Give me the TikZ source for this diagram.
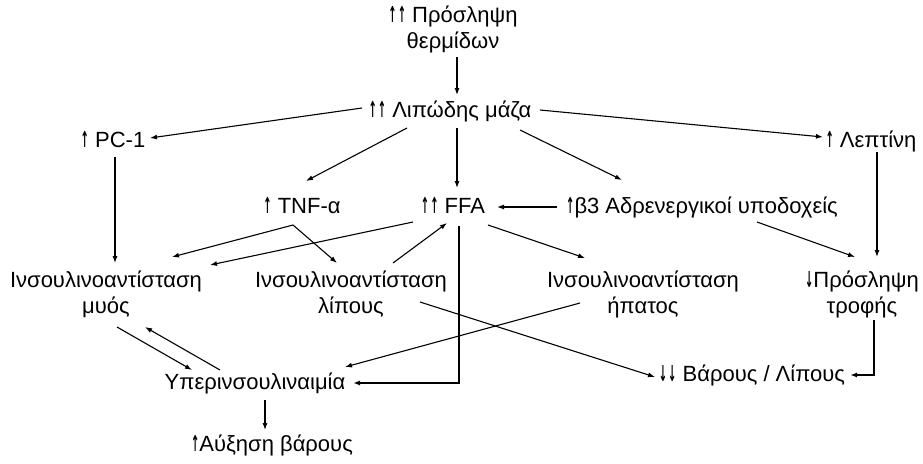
\documentclass[tikz,border=0pt]{standalone}
\usepackage{fontspec}
\usepackage{graphicx}
\setmainfont{Liberation Sans}
\newfontfamily\arrfont{DejaVu Sans Bold}
\usetikzlibrary{arrows.meta,calc}
\newcommand{\upa}{{\arrfont\scalebox{0.45}[1]{↑}}}
\newcommand{\dna}{{\arrfont\scalebox{0.45}[1]{↓}}}
\newcommand{\uu}{\upa\kern1pt\upa}
\newcommand{\dd}{\dna\kern1pt\dna}
\begin{document}
\begin{tikzpicture}[x=1pt,y=-1pt,
  lbl/.style={inner sep=0pt, anchor=base, align=center, font=\fontsize{22}{26}\selectfont},
  arr/.style={line width=1.1pt, -{Latex[length=7pt,width=5pt]}},
  heavy/.style={line width=1.8pt, -{Latex[length=7pt,width=5pt]}}]
\fill[white] (0,0) rectangle (923,463);
\useasboundingbox (0,0) rectangle (923,463);
% nodes (base = baseline of last line)
\node[lbl] (pin) at (453,48) {\uu{} Πρόσληψη\\θερμίδων};
\node[lbl] (lip) at (450,117) {\uu{} Λιπώδης μάζα};
\node[lbl] (pc1) at (113,147) {\upa{} PC-1};
\node[lbl] (lep) at (871,147) {\upa{} Λεπτίνη};
\node[lbl] (tnf) at (302,213) {\upa{} TNF-α};
\node[lbl] (ffa) at (453,213) {\uu{} FFA};
\node[lbl] (b3) at (702,213) {\upa β3 Αδρενεργικοί υποδοχείς};
\node[lbl] (imu) at (106,313) {Ινσουλινοαντίσταση\\μυός};
\node[lbl] (ili) at (351,313) {Ινσουλινοαντίσταση\\λίπους};
\node[lbl] (ihe) at (643,313) {Ινσουλινοαντίσταση\\ήπατος};
\node[lbl] (tro) at (862,313) {\dna Πρόσληψη\\τροφής};
\node[lbl] (hyp) at (255,389) {Υπερινσουλιναιμία};
\node[lbl] (aux) at (272,451) {\upa Αύξηση βάρους};
\node[lbl] (bar) at (752,381) {\dd{} Βάρους / Λίπους};
% connectors
\draw[arr] ($(pin.base)+(4,9)$) -- ($(lip.base)+(7,-22)$);
\draw[arr] ($(lip.base)+(-88,-9)$) -- ($(pc1.base)+(37,-9)$);
\draw[arr] ($(lip.base)+(90,-7)$) -- ($(lep.base)+(-48,-10)$);
\draw[arr] ($(lip.base)+(-43,11)$) -- ($(tnf.base)+(4,-32)$);
\draw[arr] ($(lip.base)+(7,11)$) -- ($(ffa.base)+(4,-25)$);
\draw[arr] ($(lip.base)+(70,13)$) -- ($(b3.base)+(-80,-33)$);
\draw[arr] ($(b3.base)+(-145,-6)$) -- ($(ffa.base)+(44,-6)$);
\draw[arr] ($(lep.base)+(6,5)$) -- ($(tro.base)+(15,-56)$);
\draw[arr] ($(b3.base)+(55,9)$) -- ($(tro.base)+(-7,-56)$);
\draw[arr] ($(pc1.base)+(2,10)$) -- ($(imu.base)+(9,-50)$);
\draw[arr] ($(tnf.base)+(-9,12)$) -- ($(imu.base)+(66,-56)$);
\draw[arr] ($(tnf.base)+(-9,12)$) -- ($(ili.base)+(-14,-50)$);
\draw[arr] ($(ffa.base)+(-40,9)$) -- ($(imu.base)+(104,-48)$);
\draw[arr] ($(ili.base)+(42,-50)$) -- ($(ffa.base)+(-6,10)$);
\draw[arr] ($(ffa.base)+(35,12)$) -- ($(ihe.base)+(-58,-55)$);
\draw[heavy] ($(ffa.base)+(6,13)$) |- ($(hyp.base)+(98,-6)$);
\draw[arr] ($(ili.base)+(69,-11)$) -- ($(bar.base)+(-97,-4)$);
\draw[arr] ($(ihe.base)+(-63,-10)$) -- ($(hyp.base)+(90,-22)$);
\draw[heavy] ($(tro.base)+(12,7)$) |- ($(bar.base)+(98,-6)$);
\draw[arr] ($(imu.base)+(11,14)$) -- ($(hyp.base)+(-63,-19)$);
\draw[arr] ($(hyp.base)+(-35,-19)$) -- ($(imu.base)+(39,14)$);
\draw[arr] ($(hyp.base)+(10,11)$) -- ($(aux.base)+(-7,-21)$);
\end{tikzpicture}
\end{document}
